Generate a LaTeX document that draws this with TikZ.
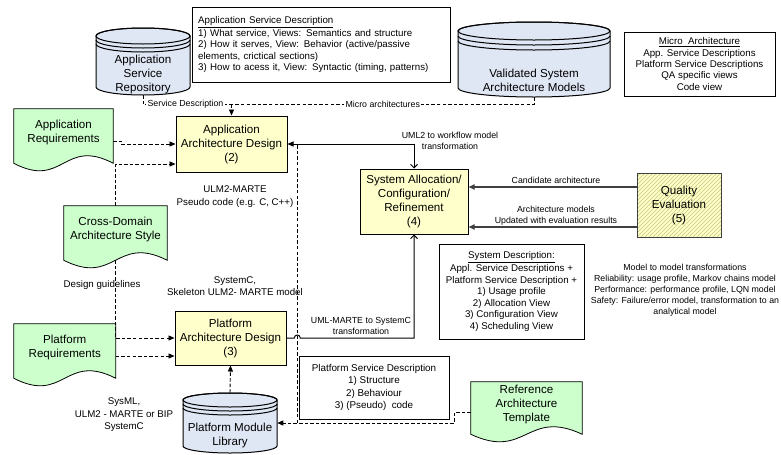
\documentclass[tikz,border=0pt]{standalone}
\usepackage{fontspec}
\setmainfont{Liberation Sans}
\usetikzlibrary{arrows.meta,calc,patterns}
\pgfdeclarelayer{background}
\pgfdeclarelayer{canvas}
\pgfsetlayers{canvas,background,main}

\definecolor{reqgreen}{HTML}{CCFFCC}
\definecolor{designyellow}{HTML}{FFFFCC}
\definecolor{storeblue}{HTML}{DFE6F4}
\definecolor{hatchcol}{HTML}{C8C878}
\definecolor{qegray}{HTML}{404040}

% font sizes
\newcommand\fntBox{\fontsize{8.7}{10.5}\selectfont}
\newcommand\fntDesc{\fontsize{7.3}{8.6}\selectfont}
\newcommand\fntSide{\fontsize{7.3}{9.4}\selectfont}
\newcommand\fntTag{\fontsize{6.6}{8.25}\selectfont}

\tikzset{
  x=0.75pt, y=-0.75pt,
  ftip/.tip={Triangle[length=4.5pt,width=3.8pt]},
  otip/.tip={Straight Barb[length=2.6pt,width=5.2pt]},
  designbox/.style={draw=black, line width=0.75pt, fill=designyellow,
    align=center, font=\fntBox, inner sep=0pt},
  qebox/.style={draw=qegray, line width=0.75pt, preaction={fill=designyellow},
    pattern=north east lines, pattern color=hatchcol,
    align=center, font=\fntBox, inner sep=0pt},
  docnode/.style={align=center, font=\fntBox, inner sep=0pt},
  docstyle/.style={draw=black, line width=0.6pt, fill=reqgreen},
  storestyle/.style={draw=black, line width=0.75pt, fill=storeblue},
  storenode/.style={inner sep=0pt},
  storetext/.style={align=center, font=\fntBox, inner sep=0pt},
  notebox/.style={draw=black, line width=0.75pt, fill=white, font=\fntDesc, inner sep=0pt},
  sidenote/.style={align=center, font=\fntSide, inner sep=0pt},
  tagnote/.style={align=center, font=\fntTag, inner sep=0pt},
  linetag/.style={font=\fntTag, fill=white, inner xsep=1pt, inner ysep=0.5pt},
  dashline/.style={draw=black, line width=0.7pt, dash pattern=on 2.6pt off 1.6pt},
  flowline/.style={draw=black, line width=0.75pt},
  qeline/.style={draw=qegray, line width=1.2pt},
}

% document shape (flat top, wavy bottom) around a named node
\newcommand\docshape[1]{%
  \begin{pgfonlayer}{background}
    \filldraw[docstyle] (#1.north west) -- (#1.north east) -- ($(#1.south east)+(0,8)$)
      .. controls ($(#1.south)+(0,-18)$) and ($(#1.south)+(0,34)$) ..
      ($(#1.south west)+(0,8)$) -- cycle;
  \end{pgfonlayer}}

% stacked-disk data store: x1 x2 ytop ybottom ry gap
\newcommand\storeshape[6]{%
  \filldraw[storestyle] ({#1},{#3+#5}) -- ({#1},{#4-#5})
    arc[start angle=180, end angle=0, x radius={(#2-#1)/2}, y radius=#5]
    -- ({#2},{#3+#5})
    arc[start angle=0, end angle=-180, x radius={(#2-#1)/2}, y radius=#5] -- cycle;
  \draw[storestyle, fill=none] ({(#1+#2)/2},{#3+#5}) ellipse [x radius={(#2-#1)/2}, y radius=#5];
  \draw[storestyle, fill=none] ({#1},{#3+#5+#6})
    arc[start angle=180, end angle=0, x radius={(#2-#1)/2}, y radius=#5];
  \draw[storestyle, fill=none] ({#1},{#3+#5+2*#6})
    arc[start angle=180, end angle=0, x radius={(#2-#1)/2}, y radius=#5];}

\begin{document}
\begin{tikzpicture}
\begin{pgfonlayer}{canvas}
  \fill[white] (0,0) rectangle (781,454);
\end{pgfonlayer}
\useasboundingbox (0,0) rectangle (781,454);

% ---------- data stores ----------
\storeshape{96}{190}{28}{95}{8}{4}
\node[storenode, minimum width=70.5pt, minimum height=50.25pt] (asr) at (143,61.5) {};
\node[storetext] (asrtext) at (143,74.5) {Application\\Service\\Repository};

\storeshape{458}{610}{22}{97}{9}{5}
\node[storenode, minimum width=114pt, minimum height=56.25pt] (vsam) at (534,59.5) {};
\node[storetext] (vsamtext) at (534,80) {Validated System\\Architecture Models};

\storeshape{183}{277}{393}{453}{7}{4}
\node[storenode, minimum width=70.5pt, minimum height=45pt] (pml) at (230,423) {};
\node[storetext] (pmltext) at (230,435) {Platform Module\\Library};

% ---------- description boxes ----------
\node[notebox, text width=185pt, inner xsep=3.9pt, align=left, minimum height=56.25pt]
  (appsvc) at (321.5,44.5)
  {\underline{Application Service Description}\\
   1) What service, Views: Semantics and structure\\
   2) How it serves, View: Behavior (active/passive\\
   elements, crictical sections)\\
   3) How to acess it, View: Syntactic (timing, patterns)};

\node[notebox, align=center, minimum width=113.25pt, minimum height=48pt]
  (microarch) at (699.5,64)
  {\underline{Micro~~Architecture}\\App. Service Descriptions\\Platform Service Descriptions\\QA specific views\\Code view};

\node[notebox, align=center, minimum width=108.75pt, minimum height=71.25pt]
  (sysdesc) at (511.5,291.5)
  {\underline{System Description:}\\Appl. Service Descriptions +\\Platform Service Description +\\1) Usage profile\\2) Allocation View\\3) Configuration View\\4) Scheduling View};

\node[notebox, align=center, minimum width=112.5pt, minimum height=47.25pt,
  font=\fontsize{7.4}{9.2}\selectfont]
  (platsvc) at (374,387.5)
  {Platform Service Description\\1) Structure\\2) Behaviour\\3) (Pseudo)~ code};

% ---------- process boxes ----------
\node[designbox, minimum width=83.25pt, minimum height=42pt] (apparch) at (231.5,144)
  {Application\\Architecture Design\\(2)};
\node[designbox, minimum width=83.25pt, minimum height=40.5pt] (platarch) at (230.5,338)
  {Platform\\Architecture Design\\(3)};
\node[designbox, minimum width=81pt, minimum height=48.75pt] (sysalloc) at (414,201.5)
  {System Allocation/\\Configuration/\\Refinement\\(4)};
\node[qebox, minimum width=63pt, minimum height=48pt] (qualeval) at (679,205)
  {Quality\\Evaluation\\(5)};

% ---------- input documents ----------
\node[docnode, minimum width=74.25pt, minimum height=34.5pt] (appreq) at (63.5,132)
  {Application\\Requirements};
\node[docnode, minimum width=77.25pt, minimum height=34.5pt] (crossdom) at (115.5,229)
  {Cross-Domain\\Architecture Style};
\node[docnode, minimum width=76.1pt, minimum height=34.5pt] (platreq) at (64.75,347)
  {Platform\\Requirements};
\node[docnode, minimum width=83.25pt, minimum height=33pt] (reftmpl) at (526.5,404)
  {Reference\\Architecture\\Template};
\docshape{appreq}
\docshape{crossdom}
\docshape{platreq}
\docshape{reftmpl}

% ---------- free annotations ----------
\node[sidenote] (ann1) at (235,196.5) {ULM2-MARTE\\Pseudo code (e.g. C, C++)};
\node[sidenote] (ann2) at (235,286) {SystemC,\\Skeleton ULM2- MARTE model};
\node[sidenote] (ann3) at (102,285) {Design guidelines};
\node[sidenote] (ann4) at (124,415) {SysML,\\ULM2 - MARTE or BIP\\SystemC};
\node[tagnote] (ann5) at (450,140.5) {UML2 to workflow model\\transformation};
\node[tagnote] (ann6) at (361,325.5) {UML-MARTE to SystemC\\transformation};
\node[tagnote] (ann7) at (556,180) {Candidate architecture};
\node[tagnote] (ann8) at (556,216) {Architecture models\\Updated with evaluation results};
\node[tagnote] (ann9) at (685,290)
  {Model to model transformations\\Reliability: usage profile, Markov chains model\\Performance: performance profile, LQN model\\Safety: Failure/error model, transformation to an\\analytical model};

% ---------- repository feeds ----------
\coordinate (feed) at ([yshift=8.25pt]apparch.north);
\draw[dashline] (asr.south) |- node[linetag, pos=0.74] {Service Description} (feed);
\draw[dashline] (vsam.south) |- node[linetag, pos=0.75] {Micro architectures} (feed);
\draw[dashline, -ftip] (feed) -- (apparch.north);

% ---------- requirement and style inputs ----------
\draw[dashline, -ftip] ([yshift=-6.75pt]appreq.east) -- ++(8,0) |- (apparch.west);
\coordinate (apparchlow) at ([yshift=-15pt]apparch.west);
\draw[dashline, -ftip] (crossdom.north) |- (apparchlow);
\coordinate (cdfoot) at ($(crossdom.south)+(0,8)$);
\draw[dashline, -ftip] (cdfoot) |- (platarch.west);
\coordinate (platarchlow) at ([yshift=-13.5pt]platarch.west);
\draw[dashline, -ftip] (platreq.east |- platarchlow) -- (platarchlow);
\draw[dashline, -ftip] (pml.north) -- (platarch.south);

% ---------- reference template to module library ----------
\draw[dashline, -ftip] ([yshift=-6pt]reftmpl.west) -- ++(-16,0) |- (pml.east);
\coordinate (pmlbranch) at ($(pml.east)+(20,0)$);
\draw[dashline] (pmlbranch) -- (pmlbranch |- apparch.east);

% ---------- transformations ----------
\draw[flowline, ftip-otip] (apparch.east) -| (sysalloc.north);
\coordinate (hop) at (pmlbranch |- platarch.east);
\draw[flowline, -otip] (platarch.east) -- ([xshift=-2.25pt]hop)
  arc[start angle=180, end angle=360, radius=3] -| (sysalloc.south);

% ---------- quality feedback ----------
\coordinate (qa) at ([yshift=13.5pt]qualeval.west);
\coordinate (qb) at ([yshift=-16.5pt]qualeval.west);
\draw[qeline, -ftip] (qa) -- (qa -| sysalloc.east);
\draw[qeline, -ftip] (qb) -- (qb -| sysalloc.east);
\end{tikzpicture}
\end{document}
